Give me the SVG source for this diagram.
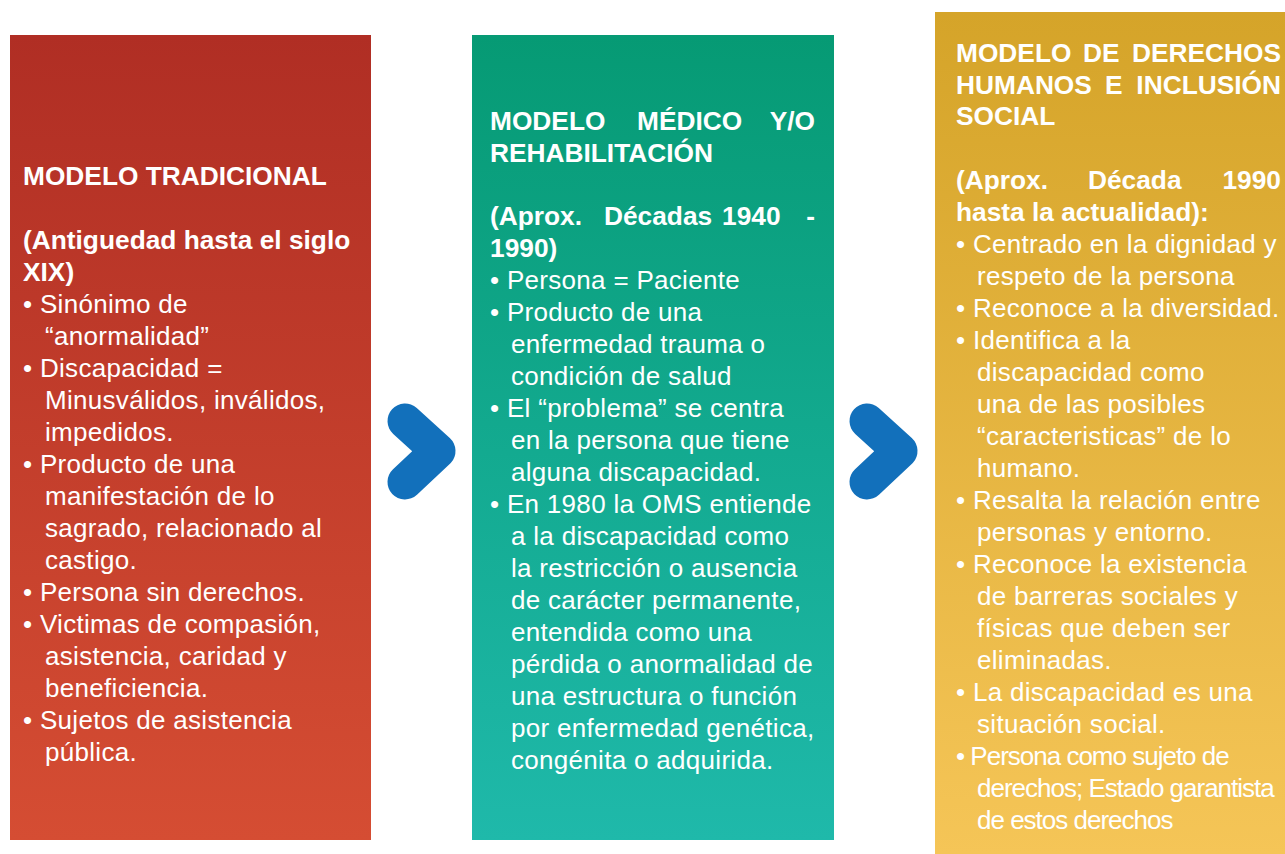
<svg xmlns="http://www.w3.org/2000/svg" width="1285" height="854" viewBox="0 0 1285 854">
<defs>
<linearGradient id="gRed" x1="0" y1="0" x2="0" y2="1"><stop offset="0" stop-color="#B02E24"/><stop offset="1" stop-color="#D54D33"/></linearGradient>
<linearGradient id="gGreen" x1="0" y1="0" x2="0" y2="1"><stop offset="0" stop-color="#069A74"/><stop offset="1" stop-color="#1FB9AA"/></linearGradient>
<linearGradient id="gYellow" x1="0" y1="0" x2="0" y2="1"><stop offset="0" stop-color="#D5A429"/><stop offset="1" stop-color="#F5C557"/></linearGradient>
<style>
text{font-family:"Liberation Sans",Arial,Helvetica,sans-serif;fill:#ffffff;}
.t{font-size:26.3px;font-weight:bold;}
.b{font-size:26px;letter-spacing:0.3px;}
.c{font-size:26px;letter-spacing:-1px;}
.chev{fill:none;stroke:#1270BB;stroke-width:35;stroke-linecap:round;stroke-linejoin:round;}
</style>
</defs>
<rect width="1285" height="854" fill="#ffffff"/>

<g id="node-tradicional">
<rect x="10" y="35" width="361" height="805" fill="url(#gRed)"/>
<text class="t" x="23" y="185">MODELO TRADICIONAL</text>
<text class="t" x="23" y="249">(Antiguedad hasta el siglo</text>
<text class="t" x="23" y="281">XIX)</text>
<text class="b" x="23" y="313">• Sinónimo de</text>
<text class="b" x="45" y="345">“anormalidad”</text>
<text class="b" x="23" y="377">• Discapacidad =</text>
<text class="b" x="45" y="409">Minusválidos, inválidos,</text>
<text class="b" x="45" y="441">impedidos.</text>
<text class="b" x="23" y="473">• Producto de una</text>
<text class="b" x="45" y="505">manifestación de lo</text>
<text class="b" x="45" y="537">sagrado, relacionado al</text>
<text class="b" x="45" y="569">castigo.</text>
<text class="b" x="23" y="601">• Persona sin derechos.</text>
<text class="b" x="23" y="633">• Victimas de compasión,</text>
<text class="b" x="45" y="665">asistencia, caridad y</text>
<text class="b" x="45" y="697">beneficiencia.</text>
<text class="b" x="23" y="729">• Sujetos de asistencia</text>
<text class="b" x="45" y="761">pública.</text>
</g>

<g id="node-medico">
<rect x="472" y="35" width="362" height="805" fill="url(#gGreen)"/>
<text class="t" y="130"><tspan x="490">MODELO</tspan><tspan x="637">MÉDICO</tspan><tspan x="815" text-anchor="end">Y/O</tspan></text>
<text class="t" x="490" y="162">REHABILITACIÓN</text>
<text class="t" y="225"><tspan x="490">(Aprox.</tspan><tspan x="604">Décadas</tspan><tspan x="722">1940</tspan><tspan x="815" text-anchor="end">-</tspan></text>
<text class="t" x="490" y="257">1990)</text>
<text class="b" x="490" y="289">• Persona = Paciente</text>
<text class="b" x="490" y="321">• Producto de una</text>
<text class="b" x="511" y="353">enfermedad trauma o</text>
<text class="b" x="511" y="385">condición de salud</text>
<text class="b" x="490" y="417">• El “problema” se centra</text>
<text class="b" x="511" y="449">en la persona que tiene</text>
<text class="b" x="511" y="481">alguna discapacidad.</text>
<text class="b" x="490" y="513">• En 1980 la OMS entiende</text>
<text class="b" x="511" y="545">a la discapacidad como</text>
<text class="b" x="511" y="577">la restricción o ausencia</text>
<text class="b" x="511" y="609">de carácter permanente,</text>
<text class="b" x="511" y="641">entendida como una</text>
<text class="b" x="511" y="673">pérdida o anormalidad de</text>
<text class="b" x="511" y="705">una estructura o función</text>
<text class="b" x="511" y="737">por enfermedad genética,</text>
<text class="b" x="511" y="769">congénita o adquirida.</text>
</g>

<g id="node-derechos">
<rect x="935" y="12" width="350" height="842" fill="url(#gYellow)"/>
<text class="t" y="62"><tspan x="956">MODELO</tspan><tspan x="1083">DE</tspan><tspan x="1281" text-anchor="end">DERECHOS</tspan></text>
<text class="t" y="94"><tspan x="956">HUMANOS</tspan><tspan x="1105">E</tspan><tspan x="1281" text-anchor="end">INCLUSIÓN</tspan></text>
<text class="t" x="956" y="125">SOCIAL</text>
<text class="t" y="189"><tspan x="956">(Aprox.</tspan><tspan x="1088">Década</tspan><tspan x="1281" text-anchor="end">1990</tspan></text>
<text class="t" x="956" y="221">hasta la actualidad):</text>
<text class="b" x="956" y="253">• Centrado en la dignidad y</text>
<text class="b" x="977" y="285">respeto de la persona</text>
<text class="b" x="956" y="317">• Reconoce a la diversidad.</text>
<text class="b" x="956" y="349">• Identifica a la</text>
<text class="b" x="977" y="381">discapacidad como</text>
<text class="b" x="977" y="413">una de las posibles</text>
<text class="b" x="977" y="445">“caracteristicas” de lo</text>
<text class="b" x="977" y="477">humano.</text>
<text class="b" x="956" y="509">• Resalta la relación entre</text>
<text class="b" x="977" y="541">personas y entorno.</text>
<text class="b" x="956" y="573">• Reconoce la existencia</text>
<text class="b" x="977" y="605">de barreras sociales y</text>
<text class="b" x="977" y="637">físicas que deben ser</text>
<text class="b" x="977" y="669">eliminadas.</text>
<text class="b" x="956" y="701">• La discapacidad es una</text>
<text class="b" x="977" y="733">situación social.</text>
<text class="c" x="956" y="765">• Persona como sujeto de</text>
<text class="c" x="977" y="797">derechos; Estado garantista</text>
<text class="c" x="977" y="829">de estos derechos</text>
</g>

<g id="connectors">
<polyline class="chev" points="405,421 438,451 405,482"/>
<polyline class="chev" points="867,421 900,451 867,482"/>
</g>
</svg>
